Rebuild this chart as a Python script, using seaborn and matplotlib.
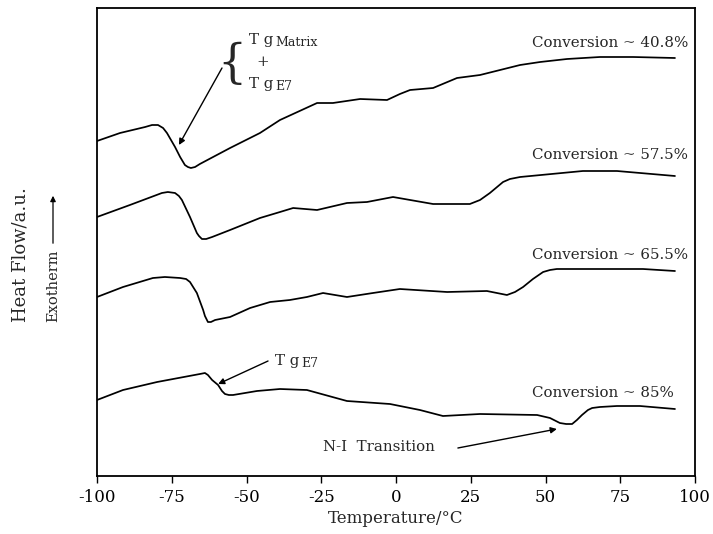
import numpy as np
import pandas as pd
import matplotlib
matplotlib.use("Agg")
import matplotlib.pyplot as plt
import seaborn as sns

# ---- data ----
t_408 = [-100, -92.3, -83.9, -81.6, -79.6, -77.9, -76.6, -73.9, -72.2, -70.6, -69.6, -68.6, -67.2,
         -65.6, -55.5, -45.5, -38.8, -26.4, -21.1, -12.0, -3.0, 1.3, 4.7, 12.4, 20.4, 28.1, 41.5,
         48.2, 57.2, 68.2, 79.3, 93.3]
h_408 = [335, 343, 349, 351, 351, 348, 343, 329, 319, 311, 309, 308, 309,
         312, 328, 343, 356, 373, 373, 377, 376, 382, 386, 388, 398, 401, 411,
         414, 417, 419, 419, 418]

t_575 = [-100, -89, -78.3, -76.3, -73.9, -72.6, -71.6, -68.9, -66.6, -65.9, -64.9, -63.5, -61.5,
         -55.5, -45.5, -38.8, -34.4, -26.4, -16.4, -9.7, -1.0, 12.4, 24.7, 28.1, 31.4, 35.8, 38.1,
         41.5, 62.5, 73.9, 93.3]
h_575 = [259, 271, 283, 284, 283, 280, 276, 259, 243, 240, 237, 237, 239,
         246, 258, 264, 268, 266, 273, 274, 279, 272, 272, 276, 283, 294, 297,
         299, 305, 305, 300]

t_655 = [-100, -91.3, -81.3, -77.3, -72.2, -70.2, -68.9, -66.6, -64.5, -63.9, -62.9, -61.9, -60.5,
         -55.5, -48.8, -42.1, -35.5, -29.8, -24.4, -16.4, -7.7, 1.3, 17.1, 30.4, 37.1, 39.8, 42.5,
         45.8, 49.2, 51.5, 53.8, 68.2, 82.6, 93.3]
h_655 = [179, 189, 198, 199, 198, 197, 194, 183, 166, 160, 154, 154, 156,
         159, 168, 174, 176, 179, 183, 179, 183, 187, 184, 185, 181, 184, 189,
         197, 204, 206, 207, 207, 207, 205]

t_85 = [-100, -91.3, -79.9, -65.6, -63.9, -62.9, -61.5, -59.5, -58.2, -57.2, -55.9, -54.5, -46.5,
        -38.8, -29.8, -16.4, -2.0, 8.0, 15.7, 28.1, 47.2, 51.5, 54.8, 56.9, 58.9, 60.5, 62.2,
        64.2, 65.6, 68.2, 73.9, 81.6, 93.3]
h_85 = [76, 86, 94, 102, 103, 101, 96, 91, 85, 82, 81, 81, 85,
        87, 86, 75, 72, 66, 60, 62, 61, 58, 53, 52, 52, 56, 61,
        66, 68, 69, 70, 70, 67]

series_names = ["Conversion ~ 40.8%", "Conversion ~ 57.5%", "Conversion ~ 65.5%", "Conversion ~ 85%"]
label_y = [433, 321, 221, 83]
x_ticks = [-100, -75, -50, -25, 0, 25, 50, 75, 100]

frames = []
for name, t, h in zip(series_names, [t_408, t_575, t_655, t_85], [h_408, h_575, h_655, h_85]):
    frames.append(pd.DataFrame({"Temperature": t, "Heat": h, "series": name}))
df = pd.concat(frames, ignore_index=True)

# ---- style ----
sns.set_theme(style="ticks")
plt.rcParams["font.family"] = ["DejaVu Serif"]

W, H = 713, 534
fig = plt.figure(figsize=(W / 100, H / 100), dpi=100)
L, R, T, B = 97, 695, 8, 476
ax = fig.add_axes([L / W, 1 - B / H, (R - L) / W, (B - T) / H])

sns.lineplot(data=df, x="Temperature", y="Heat", hue="series", units="series",
             estimator=None, sort=False, palette=["black"] * 4, linewidth=1.25,
             legend=False, ax=ax)

ax.set_xlim(-100, 100)
ax.set_ylim(0, 468)
ax.set_xticks(x_ticks)
ax.set_xticklabels([str(v) for v in x_ticks], fontsize=12)
ax.set_yticks([])
ax.tick_params(axis="x", direction="out", length=5, width=1, pad=4, colors="black")
for s in ax.spines.values():
    s.set_visible(True)
    s.set_linewidth(1.3)
    s.set_color("black")
ax.set_xlabel("Temperature/°C", fontsize=12, labelpad=3)
ax.set_ylabel("")

FS = 10.8
# series labels
for name, yy in zip(series_names, label_y):
    ax.text(45.5, yy, name, fontsize=FS, ha="left", va="center")


def tg_label(x0, y0, sub):
    base = ax.text(x0, y0, "T g", fontsize=FS, ha="left", va="center")
    ax.annotate(sub, xy=(1, 0.3), xycoords=base, xytext=(1.5, 0),
                textcoords="offset points", fontsize=9, ha="left", va="center")


# Tg matrix + Tg E7 annotation
ax.text(-55.0, 412, "{", fontsize=33, ha="center", va="center", fontweight="light")
tg_label(-49.2, 436, "Matrix")
ax.text(-44.5, 414, "+", fontsize=FS, ha="center", va="center")
tg_label(-49.2, 392, "E7")
ax.annotate("", xy=(-72.6, 331), xytext=(-58.2, 408),
            arrowprops=dict(arrowstyle="-|>", color="black", lw=1, mutation_scale=9,
                            shrinkA=0, shrinkB=0))

# Tg E7 annotation
tg_label(-40.5, 115, "E7")
ax.annotate("", xy=(-59.5, 92), xytext=(-42.8, 115),
            arrowprops=dict(arrowstyle="-|>", color="black", lw=1, mutation_scale=9,
                            shrinkA=0, shrinkB=0))

# N-I transition
ax.text(-24.4, 29, "N-I  Transition", fontsize=FS, ha="left", va="center")
ax.annotate("", xy=(53.8, 47), xytext=(20.7, 28),
            arrowprops=dict(arrowstyle="-|>", color="black", lw=1, mutation_scale=9,
                            shrinkA=0, shrinkB=0))

# y labels
fig.text(21 / W, 1 - 255 / H, "Heat Flow/a.u.", rotation=90, fontsize=13,
         ha="center", va="center")
fig.text(53 / W, 1 - 286 / H, "Exotherm", rotation=90, fontsize=10.5,
         ha="center", va="center")
fig.add_artist(matplotlib.patches.FancyArrowPatch(
    (53 / W, 1 - 246 / H), (53 / W, 1 - 193 / H), transform=fig.transFigure,
    arrowstyle="-|>", mutation_scale=8, color="black", lw=0.9))

fig.savefig("out.png", dpi=100)
